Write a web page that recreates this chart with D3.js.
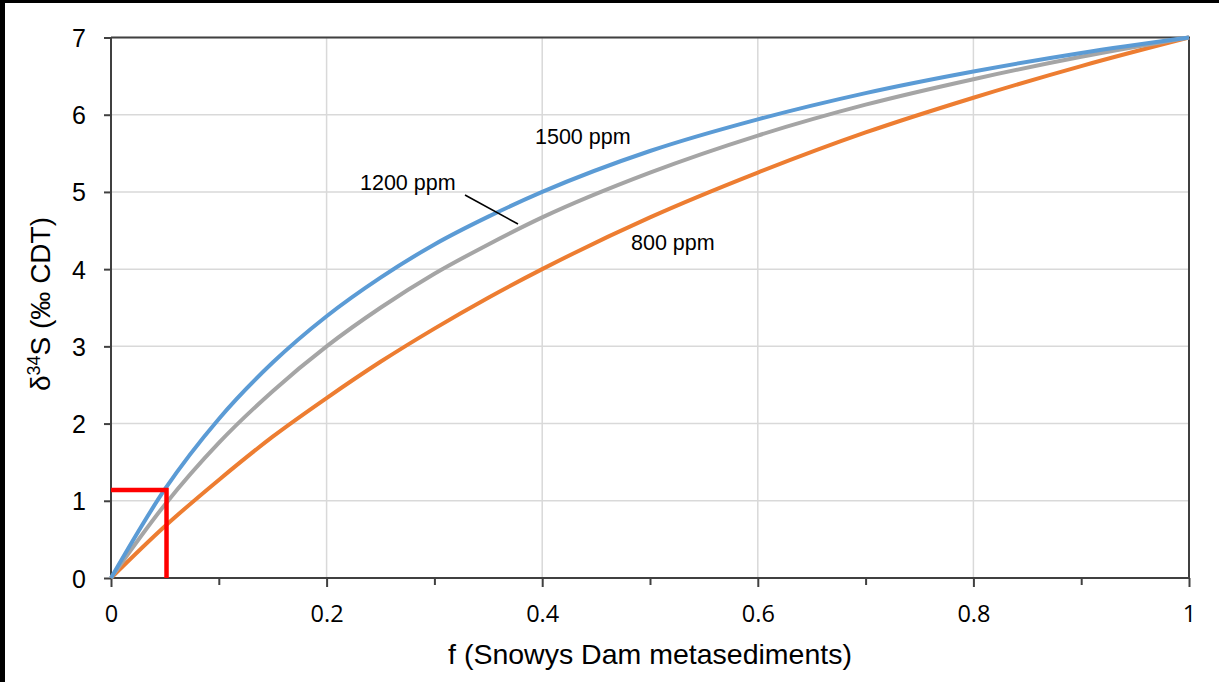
<!DOCTYPE html>
<html>
<head>
<script type="text/javascript" src="https://cdn.jsdelivr.net/npm/d3@7"></script>
<style>
  body { margin: 0; background: white; }
  text { font-family: "Liberation Sans", Arial, sans-serif; fill: #000; }
</style>
</head>
<body>
<script>

var width = 1219,
    height = 682;

// values
var fValues   = [0, 0.05, 0.1, 0.15, 0.2, 0.25, 0.3, 0.35, 0.4, 0.5, 0.6, 0.7, 0.8, 0.9, 1];
var ppm1500   = [0, 1.15, 2.06, 2.79, 3.39, 3.89, 4.32, 4.68, 5.00, 5.53, 5.94, 6.28, 6.56, 6.80, 7];
var ppm1200   = [0, 0.95, 1.75, 2.42, 3.00, 3.50, 3.94, 4.32, 4.67, 5.25, 5.73, 6.13, 6.46, 6.75, 7];
var ppm800    = [0, 0.67, 1.27, 1.83, 2.33, 2.80, 3.23, 3.63, 4.00, 4.67, 5.25, 5.77, 6.22, 6.63, 7];
var seriesNames  = ["800 ppm", "1200 ppm", "1500 ppm"];
var seriesColors = ["#ed7d31", "#a5a5a5", "#5b9bd5"];

var xTicks      = [0, 0.2, 0.4, 0.6, 0.8, 1];
var xMinorTicks = [0.1, 0.3, 0.5, 0.7, 0.9];
var yTicks      = [0, 1, 2, 3, 4, 5, 6, 7];

// red marker lines
var markF = 0.0515,
    markD = 1.14;

var x = d3.scaleLinear().domain([0, 1]).range([111, 1189]);
var y = d3.scaleLinear().domain([0, 7]).range([578, 37.5]);

var svg = d3.select("body")
            .append("svg")
            .attr("width", width)
            .attr("height", height)
            .style("display", "block");

// black frame edges
svg.append("rect").attr("x", 0).attr("y", 0).attr("width", width).attr("height", 3).style("fill", "#000");
svg.append("rect").attr("x", 0).attr("y", 0).attr("width", 5).attr("height", height).style("fill", "#000");

// grid
svg.append("g")
   .selectAll("line")
   .data(yTicks.slice(1))
   .enter()
   .append("line")
   .attr("x1", x(0)).attr("x2", x(1))
   .attr("y1", function (d) { return y(d); })
   .attr("y2", function (d) { return y(d); })
   .style("stroke", "#d9d9d9")
   .style("stroke-width", 1.5);

svg.append("g")
   .selectAll("line")
   .data(xTicks.slice(1))
   .enter()
   .append("line")
   .attr("y1", y(0)).attr("y2", y(7))
   .attr("x1", function (d) { return x(d); })
   .attr("x2", function (d) { return x(d); })
   .style("stroke", "#d9d9d9")
   .style("stroke-width", 1.5);

// axes
var xAxis = svg.append("g")
   .attr("transform", "translate(0," + y(0) + ")")
   .call(d3.axisBottom(x).tickValues(xTicks).tickSize(9)
          .tickFormat(function (d) { return d === 0 || d === 1 ? d : d.toFixed(1); }));

var xMinor = svg.append("g")
   .attr("transform", "translate(0," + y(0) + ")")
   .call(d3.axisBottom(x).tickValues(xMinorTicks).tickSize(7).tickFormat(""));
xMinor.select(".domain").remove();

var yAxis = svg.append("g")
   .attr("transform", "translate(" + x(0) + ",0)")
   .call(d3.axisLeft(y).tickValues(yTicks).tickSize(7).tickPadding(18).tickFormat(d3.format("d")));

[xAxis, xMinor, yAxis].forEach(function (g) {
  g.selectAll("path, line").style("stroke", "#404040").style("stroke-width", 2);
});
xAxis.select(".domain").attr("d", "M" + x(0) + ",0H" + x(1));
yAxis.select(".domain").attr("d", "M0," + y(0) + "V" + y(7));

xAxis.selectAll("text")
     .attr("y", 44).attr("dy", null)
     .style("font-family", "'Open Sans', sans-serif")
     .style("font-size", "23.5px");
yAxis.selectAll("text").style("font-size", "25px").attr("dy", "0.36em");

// top and right border
svg.append("path")
   .attr("d", "M" + x(0) + "," + y(7) + "H" + x(1) + "V" + y(0))
   .style("fill", "none")
   .style("stroke", "#404040")
   .style("stroke-width", 2);

// curves
var allSeries = [ppm800, ppm1200, ppm1500];
var line = d3.line()
             .x(function (d, i) { return x(fValues[i]); })
             .y(function (d) { return y(d); })
             .curve(d3.curveMonotoneX);

svg.append("g")
   .selectAll("path")
   .data(allSeries)
   .enter()
   .append("path")
   .attr("d", line)
   .style("fill", "none")
   .style("stroke", function (d, i) { return seriesColors[i]; })
   .style("stroke-width", 4);

// red marker
svg.append("path")
   .attr("d", "M" + x(0) + "," + y(markD) + "H" + x(markF) + "V" + y(0))
   .style("fill", "none")
   .style("stroke", "#ff0000")
   .style("stroke-width", 4.5);

// series labels
var labelPos = [[631, 250], [360, 190], [535, 144]];
svg.append("g")
   .selectAll("text")
   .data(seriesNames)
   .enter()
   .append("text")
   .attr("x", function (d, i) { return labelPos[i][0]; })
   .attr("y", function (d, i) { return labelPos[i][1]; })
   .style("font-size", "21.5px")
   .text(function (d) { return d; });

svg.append("line")
   .attr("x1", 465).attr("y1", 195)
   .attr("x2", 518).attr("y2", 224)
   .style("stroke", "#000")
   .style("stroke-width", 1.5);

// axis titles
svg.append("text")
   .attr("x", 650)
   .attr("y", 664)
   .attr("text-anchor", "middle")
   .style("font-size", "28.5px")
   .text("f (Snowys Dam metasediments)");

var yTitle = svg.append("text")
   .attr("transform", "translate(50,304) rotate(-90)")
   .attr("text-anchor", "middle")
   .style("font-size", "28px");
yTitle.append("tspan").text("δ");
yTitle.append("tspan").attr("dy", -10).style("font-size", "18px").text("34");
yTitle.append("tspan").attr("dy", 10).text("S (‰ CDT)");

</script>
</body>
</html>
